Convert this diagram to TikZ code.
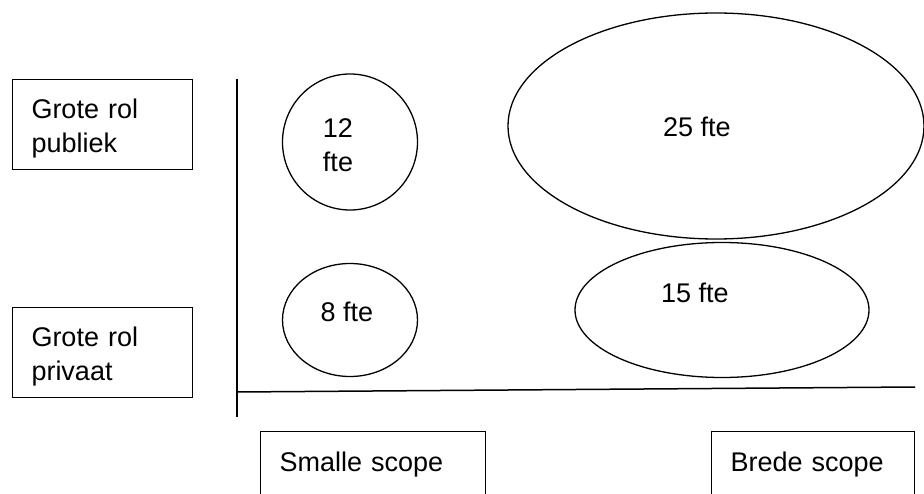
\documentclass[tikz,border=0pt]{standalone}
\usepackage{fontspec}
\setmainfont{Liberation Sans}
\usetikzlibrary{shapes.geometric}
\tikzset{
  rolbox/.style={draw,line width=1pt,anchor=north west,inner xsep=19pt,inner ysep=0pt,
    align=left,text height=39.5pt,text depth=50.5pt},
  fteshape/.style={draw,ellipse,line width=1.3pt,inner sep=0pt},
  ftelabel/.style={inner sep=0pt,align=center},
  as/.style={line width=1.5pt},
}
\begin{document}
\begin{tikzpicture}[x=1pt,y=-1pt,font=\fontsize{27}{34}\selectfont]
    %\draw[help lines] (0,0) grid (924,494);
    \useasboundingbox (0,0) rectangle (924,494);
    \clip (0,0) rectangle (924,494);
    % rol
    \node[rolbox,text width=142pt] (publiek) at (12,79) {Grote rol\\publiek};
    \node[rolbox,text width=142pt] (privaat) at (12,307) {Grote rol\\privaat};
    % scope
    \node[rolbox,text width=187pt] (smal) at (260,431) {Smalle scope};
    \node[rolbox,text width=165pt] (breed) at (711,431) {Brede scope};
    % assen
    \coordinate (ytop) at (237,79);
    \coordinate (ybot) at (237,417);
    \coordinate (oorsprong) at (237,392);
    \coordinate (xend) at (915,387);
    \draw[as] (ytop) -- (ybot);
    \draw[as] (oorsprong) -- (xend);
    % fte
    \node[fteshape,minimum width=135pt,minimum height=136pt] (c12) at (350,142) {};
    \node[fteshape,minimum width=135pt,minimum height=113pt] (c8) at (350,320) {};
    \node[fteshape,minimum width=416pt,minimum height=226pt] (e25) at (716,126) {};
    \node[fteshape,minimum width=294pt,minimum height=135pt] (e15) at (722,310) {};
    \node[ftelabel,xshift=-12pt,yshift=-3pt] (t12) at (c12) {12\\fte};
    \node[ftelabel,xshift=-3pt,yshift=8pt] (t8) at (c8) {8 fte};
    \node[ftelabel,xshift=-19pt,yshift=-1pt] (t25) at (e25) {25 fte};
    \node[ftelabel,xshift=-27pt,yshift=17pt] (t15) at (e15) {15 fte};
\end{tikzpicture}
\end{document}
